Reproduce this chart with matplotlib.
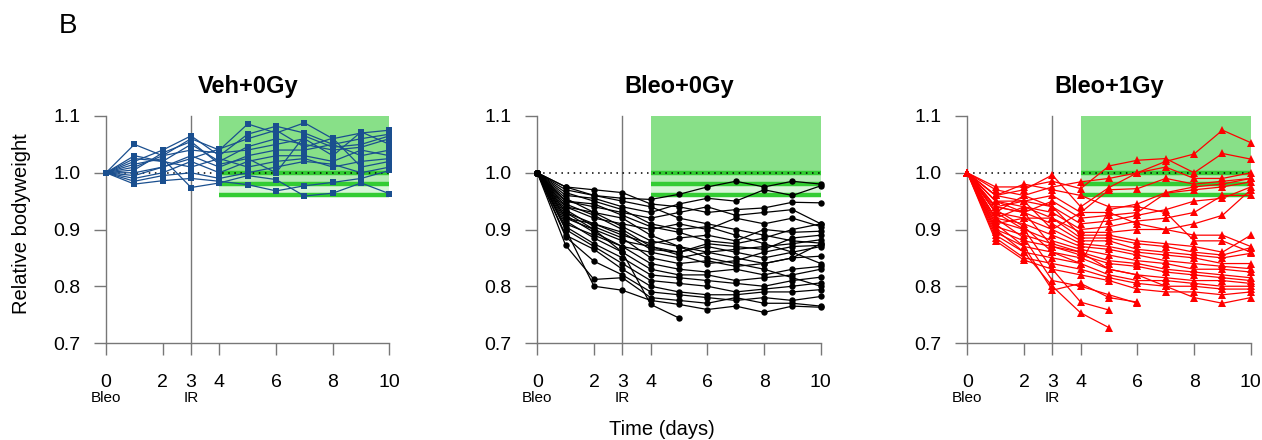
import numpy as np
import matplotlib
matplotlib.use("Agg")
import matplotlib.pyplot as plt

plt.rcParams['font.family'] = ['Liberation Sans', 'DejaVu Sans']

days = [0, 1, 2, 3, 4, 5, 6, 7, 8, 9, 10]
nan = np.nan

veh_0gy = [
    [1.00, 1.050, 1.030, 1.060, 1.040, 1.086, 1.070, 1.088, 1.060, 1.070, 1.075],
    [1.00, 1.020, 1.040, 1.065, 1.030, 1.068, 1.082, 1.070, 1.050, 1.060, 1.068],
    [1.00, 1.030, 1.020, 1.050, 1.020, 1.046, 1.060, 1.050, 1.040, 1.045, 1.060],
    [1.00, 1.010, 1.030, 1.040, 1.035, 1.040, 1.050, 1.060, 1.030, 1.072, 1.050],
    [1.00, 1.000, 1.010, 1.030, 1.010, 1.030, 1.040, 1.040, 1.050, 1.030, 1.040],
    [1.00, 0.990, 1.000, 1.020, 1.000, 1.020, 1.030, 1.030, 1.020, 1.040, 1.030],
    [1.00, 1.025, 1.020, 1.010, 1.025, 1.010, 1.020, 1.025, 1.010, 1.020, 1.025],
    [1.00, 0.985, 0.995, 1.000, 0.990, 1.000, 1.010, 1.020, 1.015, 1.000, 1.010],
    [1.00, 0.980, 0.986, 0.990, 0.985, 0.979, 0.968, 0.977, 0.983, 0.990, 1.004],
    [1.00, 1.015, 1.025, 0.974, 0.982, 0.995, 0.988, 0.959, 0.964, 0.982, 0.963],
    [1.00, 1.005, 1.035, 1.055, 1.015, 1.025, 1.000, 1.065, 1.045, 1.050, 1.065],
    [1.00, 0.995, 1.010, 1.025, 1.042, 1.060, 1.075, 1.045, 1.061, 1.010, 1.020],
]

bleo_0gy = [
    [1.00, 0.970, 0.960, 0.955, 0.953, 0.962, 0.975, 0.985, 0.975, 0.985, 0.980],
    [1.00, 0.960, 0.955, 0.940, 0.930, 0.945, 0.955, 0.950, 0.970, 0.960, 0.977],
    [1.00, 0.975, 0.970, 0.965, 0.945, 0.940, 0.930, 0.935, 0.938, 0.948, 0.947],
    [1.00, 0.950, 0.940, 0.930, 0.920, 0.930, 0.940, 0.925, 0.930, 0.935, 0.910],
    [1.00, 0.940, 0.920, 0.910, 0.900, 0.910, 0.900, 0.920, 0.910, 0.920, 0.905],
    [1.00, 0.930, 0.910, 0.890, 0.875, 0.885, 0.890, 0.880, 0.900, 0.895, 0.897],
    [1.00, 0.920, 0.900, 0.880, 0.870, 0.860, 0.875, 0.870, 0.865, 0.885, 0.890],
    [1.00, 0.910, 0.890, 0.870, 0.860, 0.850, 0.860, 0.865, 0.870, 0.875, 0.882],
    [1.00, 0.955, 0.930, 0.920, 0.890, 0.870, 0.860, 0.850, 0.840, 0.850, 0.875],
    [1.00, 0.945, 0.925, 0.900, 0.870, 0.855, 0.840, 0.845, 0.860, 0.870, 0.872],
    [1.00, 0.935, 0.905, 0.885, 0.850, 0.840, 0.845, 0.835, 0.840, 0.850, 0.853],
    [1.00, 0.925, 0.895, 0.870, 0.840, 0.830, 0.825, 0.830, 0.820, 0.830, 0.835],
    [1.00, 0.915, 0.885, 0.860, 0.830, 0.820, 0.820, 0.810, 0.815, 0.820, 0.830],
    [1.00, 0.905, 0.875, 0.850, 0.820, 0.815, 0.810, 0.805, 0.800, 0.810, 0.816],
    [1.00, 0.900, 0.870, 0.840, 0.810, 0.805, 0.800, 0.790, 0.795, 0.800, 0.806],
    [1.00, 0.890, 0.865, 0.830, 0.800, 0.790, 0.785, 0.785, 0.790, 0.790, 0.794],
    [1.00, 0.887, 0.844, 0.820, 0.790, 0.785, 0.780, 0.775, 0.780, 0.775, 0.782],
    [1.00, 0.872, 0.812, 0.815, 0.780, 0.775, 0.770, 0.780, 0.770, 0.770, 0.765],
    [1.00, 0.900, 0.800, 0.793, 0.775, 0.768, 0.759, 0.765, 0.754, 0.765, 0.763],
    [1.00, 0.930, 0.900, 0.860, 0.768, 0.744, nan, nan, nan, nan, nan],
    [1.00, 0.965, 0.950, 0.935, 0.910, 0.900, 0.905, 0.890, 0.875, 0.860, 0.840],
    [1.00, 0.940, 0.930, 0.905, 0.880, 0.870, 0.850, 0.840, 0.830, 0.815, 0.800],
    [1.00, 0.950, 0.945, 0.925, 0.905, 0.895, 0.880, 0.875, 0.885, 0.900, 0.910],
    [1.00, 0.920, 0.910, 0.895, 0.865, 0.860, 0.870, 0.860, 0.850, 0.860, 0.870],
    [1.00, 0.975, 0.960, 0.950, 0.940, 0.920, 0.910, 0.900, 0.890, 0.880, 0.876],
]

bleo_1gy = [
    [1.00, 0.970, 0.960, 0.975, 0.984, 0.990, 1.000, 1.020, 1.033, 1.075, 1.053],
    [1.00, 0.975, 0.975, 0.985, 0.972, 1.012, 1.022, 1.025, 1.000, 1.034, 1.024],
    [1.00, 0.960, 0.970, 0.996, 0.940, 0.974, 1.000, 1.010, 0.990, 0.990, 1.000],
    [1.00, 0.950, 0.950, 0.960, 0.930, 0.970, 0.972, 0.990, 0.980, 0.985, 0.990],
    [1.00, 0.940, 0.930, 0.950, 0.920, 0.925, 0.930, 0.964, 0.970, 0.975, 0.984],
    [1.00, 0.930, 0.960, 0.940, 0.910, 0.915, 0.925, 0.935, 0.950, 0.955, 0.975],
    [1.00, 0.920, 0.940, 0.930, 0.900, 0.905, 0.915, 0.920, 0.930, 0.960, 0.960],
    [1.00, 0.910, 0.920, 0.920, 0.895, 0.895, 0.900, 0.900, 0.910, 0.925, 0.970],
    [1.00, 0.960, 0.950, 0.940, 0.890, 0.890, 0.880, 0.875, 0.870, 0.860, 0.890],
    [1.00, 0.950, 0.940, 0.920, 0.885, 0.885, 0.875, 0.870, 0.860, 0.855, 0.868],
    [1.00, 0.940, 0.930, 0.910, 0.880, 0.880, 0.865, 0.860, 0.855, 0.850, 0.858],
    [1.00, 0.930, 0.920, 0.900, 0.875, 0.870, 0.860, 0.855, 0.850, 0.840, 0.840],
    [1.00, 0.920, 0.910, 0.890, 0.870, 0.865, 0.855, 0.845, 0.840, 0.835, 0.831],
    [1.00, 0.915, 0.900, 0.880, 0.865, 0.855, 0.845, 0.840, 0.830, 0.830, 0.825],
    [1.00, 0.905, 0.890, 0.875, 0.860, 0.845, 0.840, 0.830, 0.825, 0.820, 0.815],
    [1.00, 0.900, 0.880, 0.870, 0.855, 0.840, 0.835, 0.825, 0.820, 0.815, 0.810],
    [1.00, 0.895, 0.870, 0.860, 0.850, 0.830, 0.820, 0.815, 0.810, 0.810, 0.805],
    [1.00, 0.890, 0.860, 0.850, 0.840, 0.820, 0.810, 0.810, 0.805, 0.800, 0.800],
    [1.00, 0.885, 0.850, 0.840, 0.830, 0.815, 0.805, 0.800, 0.800, 0.795, 0.795],
    [1.00, 0.930, 0.900, 0.830, 0.820, 0.810, 0.795, 0.790, 0.790, 0.785, 0.790],
    [1.00, 0.920, 0.885, 0.810, 0.800, 0.785, 0.770, nan, nan, nan, nan],
    [1.00, 0.910, 0.870, 0.793, 0.805, 0.780, 0.772, nan, nan, nan, nan],
    [1.00, 0.900, 0.860, 0.800, 0.753, 0.727, nan, nan, nan, nan, nan],
    [1.00, 0.880, 0.846, 0.830, 0.772, 0.758, nan, nan, nan, nan, nan],
    [1.00, 0.950, 0.930, 0.870, 0.860, 0.830, 0.820, 0.800, 0.780, 0.770, 0.780],
    [1.00, 0.940, 0.950, 0.900, 0.930, 0.930, 0.910, 0.900, 0.890, 0.890, 0.870],
    [1.00, 0.960, 0.980, 0.970, 0.960, 0.940, 0.940, 0.930, 0.880, 0.880, 0.860],
    [1.00, 0.935, 0.905, 0.860, 0.840, 0.935, 0.945, 0.965, 0.975, 0.980, 0.990],
]

titles = ["Veh+0Gy", "Bleo+0Gy", "Bleo+1Gy"]
groups = [veh_0gy, bleo_0gy, bleo_1gy]
colors = ["#1a4f8f", "#000000", "#ff0000"]
markers = ["s", "o", "^"]
msizes = [5.0, 4.6, 6.0]
xticks = [0, 2, 3, 4, 6, 8, 10]
yticks = [0.7, 0.8, 0.9, 1.0, 1.1]

W, H = 1262, 440
fig = plt.figure(figsize=(W / 100, H / 100), dpi=100)

x0_px = [106, 537.3, 967.3]
unit = 28.35
xlo, xhi = -0.25, 10.25
ylo, yhi = 0.69, 1.11
ybot_px = 343 + (0.7 - ylo) * 567.5
ytop_px = 116 - (yhi - 1.1) * 567.5
axis_col = "#777777"

for i, (title, data, col, mk, ms) in enumerate(zip(titles, groups, colors, markers, msizes)):
    left_px = x0_px[i] + xlo * unit
    width_px = (xhi - xlo) * unit
    ax = fig.add_axes([left_px / W, 1 - ybot_px / H, width_px / W, (ybot_px - ytop_px) / H])
    ax.set_xlim(xlo, xhi)
    ax.set_ylim(ylo, yhi)

    # green target zone
    ax.fill_between([4, 10], 1.0, 1.1, color="#88e088", lw=0, zorder=1)
    ax.fill_between([4, 10], 0.98, 1.0, color="#b3ebb3", lw=0, zorder=1)
    ax.fill_between([4, 10], 0.96, 0.98, color="#d8f6d8", lw=0, zorder=1)
    for yv in (1.0, 0.98, 0.96):
        ax.plot([4, 10], [yv, yv], color="#33cc33", lw=3.2, zorder=2, solid_capstyle="butt")
    ax.plot([0, 10], [1.0, 1.0], color="black", lw=1.1, ls=(0, (1, 3)), zorder=3)
    ax.plot([3, 3], [0.7, 1.1], color=axis_col, lw=1.0, zorder=2)

    for series in data:
        ax.plot(days, series, color=col, lw=0.9, marker=mk, ms=ms, zorder=4,
                markeredgewidth=0)

    for s in ("top", "right"):
        ax.spines[s].set_visible(False)
    ax.spines["left"].set_position(("data", 0))
    ax.spines["left"].set_bounds(0.7, 1.1)
    ax.spines["bottom"].set_position(("data", 0.7))
    ax.spines["bottom"].set_bounds(0, 10)
    for s in ("left", "bottom"):
        ax.spines[s].set_color(axis_col)
        ax.spines[s].set_linewidth(1.0)
    ax.set_xticks(xticks)
    ax.set_xticklabels([str(t) for t in xticks])
    ax.set_yticks(yticks)
    ax.set_yticklabels([f"{v:.1f}" for v in yticks])
    ax.tick_params(axis="both", direction="out", length=8.6, width=1.0,
                   color=axis_col, labelsize=14)
    ax.tick_params(axis="x", pad=14)
    ax.tick_params(axis="y", pad=10)
    ax.patch.set_visible(False)
    ax.text(0, 0.603, "Bleo", ha="center", va="center", fontsize=11, clip_on=False)
    ax.text(3, 0.603, "IR", ha="center", va="center", fontsize=11, clip_on=False)

    cx = x0_px[i] + 5 * unit
    fig.text(cx / W, 1 - 87 / H, title, ha="center", va="center",
             fontsize=17, fontweight="bold")

fig.text(68 / W, 1 - 26 / H, "B", ha="center", va="center", fontsize=20)
fig.text(22 / W, 1 - 224 / H, "Relative bodyweight", rotation=90,
         ha="center", va="center", fontsize=14.5)
fig.text(662 / W, 1 - 429 / H, "Time (days)", ha="center", va="center", fontsize=14.5)

fig.savefig("out.png", dpi=100)
